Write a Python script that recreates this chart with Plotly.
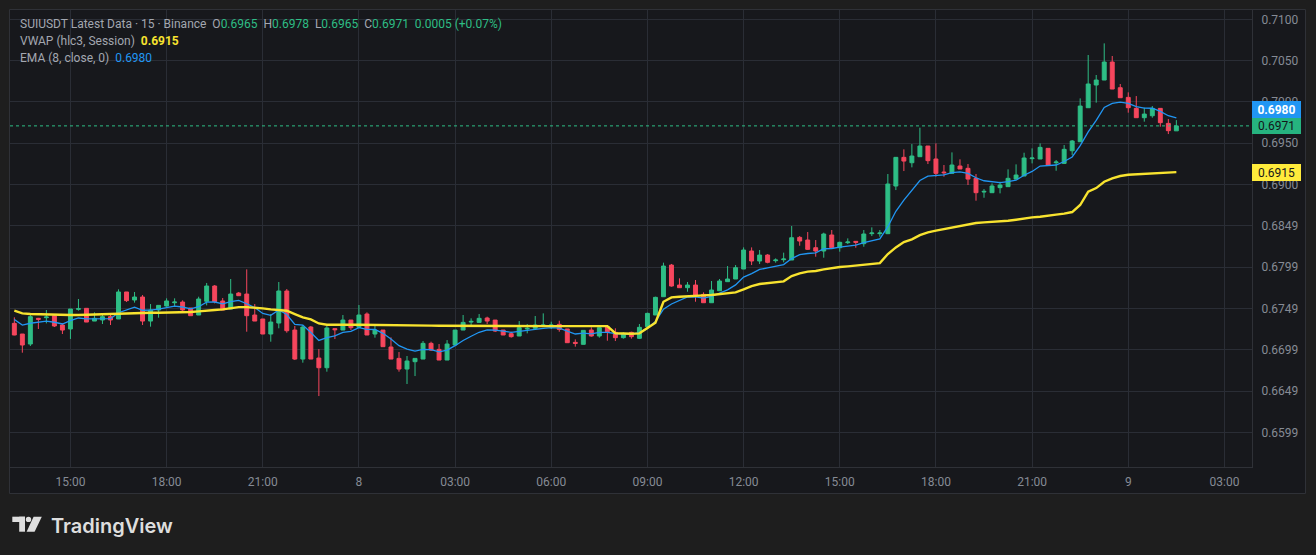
import pandas as pd
import plotly.graph_objects as go

# ---------------- data ----------------
start_time = "2024-08-07 13:15"

open_ = [0.67319, 0.67190, 0.67069, 0.67380, 0.67388, 0.67412, 0.67299, 0.67251, 0.67489, 0.67501,
         0.67347, 0.67360, 0.67400, 0.67372, 0.67699, 0.67602, 0.67638, 0.67347, 0.67481, 0.67529,
         0.67569, 0.67577, 0.67505, 0.67420, 0.67586, 0.67771, 0.67590, 0.67493, 0.67686, 0.67674,
         0.67420, 0.67372, 0.67190, 0.67323, 0.67711, 0.67238, 0.66887, 0.67275, 0.66899, 0.66782,
         0.67255, 0.67238, 0.67359, 0.67271, 0.67432, 0.67190, 0.67238, 0.67033, 0.66895, 0.66766,
         0.66855, 0.66887, 0.67077, 0.67004, 0.66875, 0.67057, 0.67238, 0.67335, 0.67331, 0.67384,
         0.67359, 0.67238, 0.67194, 0.67166, 0.67251, 0.67259, 0.67291, 0.67291, 0.67307, 0.67251,
         0.67089, 0.67065, 0.67238, 0.67166, 0.67279, 0.67210, 0.67146, 0.67210, 0.67138, 0.67279,
         0.67420, 0.67642, 0.68025, 0.67783, 0.67751, 0.67783, 0.67670, 0.67569, 0.67714, 0.67824,
         0.67856, 0.67977, 0.68195, 0.68074, 0.68146, 0.68078, 0.68090, 0.68086, 0.68360, 0.68328,
         0.68235, 0.68195, 0.68389, 0.68235, 0.68296, 0.68312, 0.68284, 0.68405, 0.68405, 0.68405,
         0.68982, 0.69329, 0.69264, 0.69337, 0.69466, 0.69309, 0.69151, 0.69135, 0.69224, 0.69196,
         0.69075, 0.68909, 0.68901, 0.68962, 0.68974, 0.69066, 0.69103, 0.69313, 0.69309, 0.69438,
         0.69264, 0.69256, 0.69409, 0.69518, 0.69930, 0.70205, 0.70265, 0.70483, 0.70172, 0.70055,
         0.69922, 0.69809, 0.69833, 0.69922, 0.69740, 0.69650]

high = [0.67392, 0.67190, 0.67420, 0.67385, 0.67481, 0.67428, 0.67319, 0.67493, 0.67614, 0.67501,
        0.67452, 0.67420, 0.67420, 0.67731, 0.67699, 0.67699, 0.67662, 0.67553, 0.67537, 0.67622,
        0.67622, 0.67598, 0.67505, 0.67642, 0.67808, 0.67783, 0.67626, 0.67856, 0.67699, 0.67973,
        0.67553, 0.67372, 0.67432, 0.67820, 0.67735, 0.67287, 0.67299, 0.67287, 0.67008, 0.67287,
        0.67255, 0.67420, 0.67359, 0.67541, 0.67452, 0.67299, 0.67238, 0.67150, 0.66972, 0.66924,
        0.66895, 0.67105, 0.67097, 0.67069, 0.67117, 0.67238, 0.67420, 0.67380, 0.67432, 0.67400,
        0.67359, 0.67238, 0.67218, 0.67347, 0.67311, 0.67408, 0.67440, 0.67339, 0.67351, 0.67251,
        0.67125, 0.67234, 0.67271, 0.67267, 0.67299, 0.67259, 0.67210, 0.67218, 0.67311, 0.67448,
        0.67642, 0.68054, 0.68038, 0.67864, 0.67820, 0.67844, 0.67694, 0.67832, 0.67856, 0.68013,
        0.68025, 0.68239, 0.68239, 0.68207, 0.68158, 0.68106, 0.68175, 0.68498, 0.68376, 0.68425,
        0.68328, 0.68417, 0.68449, 0.68308, 0.68348, 0.68312, 0.68449, 0.68481, 0.68449, 0.69127,
        0.69329, 0.69426, 0.69490, 0.69688, 0.69466, 0.69498, 0.69236, 0.69389, 0.69305, 0.69248,
        0.69127, 0.68945, 0.69014, 0.69034, 0.69184, 0.69244, 0.69385, 0.69438, 0.69498, 0.69438,
        0.69297, 0.69478, 0.69539, 0.70043, 0.70568, 0.70326, 0.70709, 0.70556, 0.70217, 0.70116,
        0.70071, 0.69930, 0.69950, 0.69922, 0.69793, 0.69780]

low = [0.67175, 0.66964, 0.67045, 0.67251, 0.67319, 0.67275, 0.67190, 0.67130, 0.67473, 0.67335,
       0.67347, 0.67311, 0.67299, 0.67372, 0.67578, 0.67570, 0.67299, 0.67279, 0.67388, 0.67521,
       0.67529, 0.67469, 0.67412, 0.67420, 0.67537, 0.67561, 0.67481, 0.67493, 0.67650, 0.67218,
       0.67347, 0.67190, 0.67097, 0.67259, 0.67206, 0.66875, 0.66843, 0.66887, 0.66439, 0.66734,
       0.67129, 0.67238, 0.67238, 0.67271, 0.67178, 0.67146, 0.67037, 0.66887, 0.66734, 0.66585,
       0.66681, 0.66887, 0.66984, 0.66875, 0.66875, 0.67057, 0.67238, 0.67299, 0.67331, 0.67311,
       0.67214, 0.67178, 0.67146, 0.67166, 0.67198, 0.67246, 0.67279, 0.67251, 0.67218, 0.67085,
       0.67037, 0.67065, 0.67158, 0.67146, 0.67109, 0.67105, 0.67134, 0.67134, 0.67129, 0.67271,
       0.67420, 0.67642, 0.67763, 0.67751, 0.67702, 0.67581, 0.67569, 0.67569, 0.67714, 0.67824,
       0.67856, 0.67977, 0.68025, 0.68038, 0.68046, 0.68054, 0.68058, 0.68086, 0.68259, 0.68207,
       0.68126, 0.68114, 0.68235, 0.68187, 0.68280, 0.68235, 0.68247, 0.68376, 0.68368, 0.68400,
       0.68933, 0.69163, 0.69208, 0.69337, 0.69248, 0.69095, 0.69095, 0.69135, 0.69188, 0.68994,
       0.68804, 0.68840, 0.68901, 0.68893, 0.68974, 0.69066, 0.69103, 0.69256, 0.69309, 0.69236,
       0.69167, 0.69256, 0.69357, 0.69518, 0.69930, 0.69991, 0.70265, 0.70156, 0.70051, 0.69870,
       0.69809, 0.69761, 0.69809, 0.69700, 0.69611, 0.69650]

close = [0.67178, 0.67057, 0.67400, 0.67368, 0.67396, 0.67287, 0.67238, 0.67493, 0.67497, 0.67335,
         0.67380, 0.67400, 0.67360, 0.67699, 0.67594, 0.67638, 0.67347, 0.67481, 0.67537, 0.67590,
         0.67577, 0.67481, 0.67412, 0.67614, 0.67771, 0.67582, 0.67481, 0.67674, 0.67654, 0.67412,
         0.67347, 0.67190, 0.67335, 0.67711, 0.67230, 0.66887, 0.67275, 0.66887, 0.66782, 0.67263,
         0.67242, 0.67359, 0.67267, 0.67420, 0.67178, 0.67238, 0.67037, 0.66887, 0.66766, 0.66863,
         0.66895, 0.67077, 0.66996, 0.66875, 0.67069, 0.67238, 0.67331, 0.67343, 0.67380, 0.67347,
         0.67226, 0.67178, 0.67158, 0.67267, 0.67259, 0.67299, 0.67299, 0.67299, 0.67246, 0.67085,
         0.67077, 0.67234, 0.67166, 0.67267, 0.67218, 0.67146, 0.67198, 0.67158, 0.67271, 0.67440,
         0.67634, 0.68013, 0.67771, 0.67751, 0.67783, 0.67650, 0.67569, 0.67723, 0.67832, 0.67856,
         0.67993, 0.68207, 0.68074, 0.68146, 0.68058, 0.68086, 0.68098, 0.68356, 0.68316, 0.68215,
         0.68195, 0.68401, 0.68235, 0.68300, 0.68304, 0.68300, 0.68401, 0.68413, 0.68413, 0.69006,
         0.69329, 0.69284, 0.69345, 0.69466, 0.69289, 0.69135, 0.69143, 0.69236, 0.69188, 0.69066,
         0.68901, 0.68917, 0.68982, 0.68994, 0.69075, 0.69115, 0.69321, 0.69321, 0.69450, 0.69236,
         0.69272, 0.69426, 0.69527, 0.69950, 0.70217, 0.70265, 0.70483, 0.70156, 0.70051, 0.69930,
         0.69809, 0.69853, 0.69922, 0.69749, 0.69652, 0.69710]

vwap = [0.67472, 0.67440, 0.67432, 0.67428, 0.67428, 0.67424, 0.67420, 0.67420, 0.67420, 0.67424,
        0.67428, 0.67428, 0.67428, 0.67440, 0.67444, 0.67444, 0.67444, 0.67448, 0.67448, 0.67448,
        0.67448, 0.67452, 0.67456, 0.67464, 0.67476, 0.67480, 0.67488, 0.67504, 0.67516, 0.67516,
        0.67512, 0.67500, 0.67488, 0.67480, 0.67472, 0.67432, 0.67391, 0.67367, 0.67318, 0.67302,
        0.67305, 0.67304, 0.67303, 0.67302, 0.67300, 0.67299, 0.67298, 0.67297, 0.67296, 0.67295,
        0.67294, 0.67293, 0.67292, 0.67291, 0.67290, 0.67289, 0.67288, 0.67288, 0.67287, 0.67287,
        0.67287, 0.67287, 0.67287, 0.67287, 0.67287, 0.67286, 0.67286, 0.67286, 0.67286, 0.67286,
        0.67285, 0.67285, 0.67285, 0.67285, 0.67285, 0.67200, 0.67195, 0.67193, 0.67198, 0.67258,
        0.67327, 0.67581, 0.67634, 0.67642, 0.67650, 0.67654, 0.67658, 0.67662, 0.67670, 0.67682,
        0.67694, 0.67731, 0.67771, 0.67795, 0.67803, 0.67811, 0.67828, 0.67892, 0.67924, 0.67945,
        0.67953, 0.67973, 0.67989, 0.68001, 0.68009, 0.68017, 0.68029, 0.68041, 0.68049, 0.68158,
        0.68239, 0.68304, 0.68336, 0.68388, 0.68421, 0.68441, 0.68461, 0.68481, 0.68497, 0.68514,
        0.68534, 0.68542, 0.68546, 0.68554, 0.68562, 0.68574, 0.68590, 0.68602, 0.68610, 0.68618,
        0.68635, 0.68647, 0.68667, 0.68752, 0.68913, 0.68957, 0.69034, 0.69075, 0.69103, 0.69119,
        0.69125, 0.69133, 0.69140, 0.69145, 0.69148, 0.69150]

ema_length = 8
ema_seed = 0.67420          # EMA value just before the first visible bar (read)
ema_last_label = 0.6980     # EMA value shown in the legend / price scale
vwap_label = "0.6915"
ema_label = "0.6980"
change_label = "0.0005 (+0.07%)"

price_tickvals = [0.660, 0.665, 0.670, 0.675, 0.680, 0.685, 0.690, 0.695, 0.700, 0.705, 0.710]
price_ticktext = ["0.6599", "0.6649", "0.6699", "0.6749", "0.6799", "0.6849",
                  "0.6900", "0.6950", "0.7000", "0.7050", "0.7100"]
time_tickvals = ["2024-08-07 15:00", "2024-08-07 18:00", "2024-08-07 21:00", "2024-08-08 00:00",
                 "2024-08-08 03:00", "2024-08-08 06:00", "2024-08-08 09:00", "2024-08-08 12:00",
                 "2024-08-08 15:00", "2024-08-08 18:00", "2024-08-08 21:00", "2024-08-09 00:00",
                 "2024-08-09 03:00"]
time_ticktext = ["15:00", "18:00", "21:00", "8", "03:00", "06:00", "09:00", "12:00",
                 "15:00", "18:00", "21:00", "9", "03:00"]

# ---------------- derived ----------------
times = pd.date_range(start_time, periods=len(close), freq="15min")
alpha = 2.0 / (ema_length + 1)
ema = []
prev = ema_seed
for c in close:
    prev = alpha * c + (1 - alpha) * prev
    ema.append(prev)

# ---------------- style ----------------
W_FIG, H_FIG = 1316, 555
PL, PR, PT, PB = 10, 1252, 10, 467
PW, PH = PR - PL, PB - PT


def px(x):
    return (x - PL) / PW


def py(y):
    return (PB - y) / PH


OUTER = "#1e1e1e"
BG = "#17181c"
GRID = "#2a2d35"
BORDER = "#2f3137"
AXIS_TXT = "#868b95"
LEG_TXT = "#a3a7b0"
GREEN = "#2ebd85"
RED = "#f6465d"
YELLOW = "#f8e32f"
BLUE = "#2196f3"
FONT = "Roboto"

fig = go.Figure()
fig.add_trace(go.Candlestick(
    x=times, open=open_, high=high, low=low, close=close,
    increasing=dict(line=dict(color=GREEN, width=1), fillcolor=GREEN),
    decreasing=dict(line=dict(color=RED, width=1), fillcolor=RED),
    whiskerwidth=0, hoverinfo="skip", showlegend=False))
fig.add_trace(go.Scatter(x=times, y=ema, mode="lines",
                         line=dict(color=BLUE, width=1.3), hoverinfo="skip", showlegend=False))
fig.add_trace(go.Scatter(x=times, y=vwap, mode="lines",
                         line=dict(color=YELLOW, width=2.4), hoverinfo="skip", showlegend=False))

shapes = [
    # chart panel
    dict(type="rect", xref="paper", yref="paper", x0=px(9.5), x1=px(1305.5),
         y0=py(493.5), y1=py(9.5), fillcolor=BG, line=dict(color=BORDER, width=1), layer="below"),
    # last price dotted line
    dict(type="line", xref="paper", yref="y", x0=0, x1=1, y0=close[-1], y1=close[-1],
         line=dict(color=GREEN, width=1, dash="dot"), layer="above"),
    # TradingView logo
    dict(type="rect", xref="paper", yref="paper", x0=px(12.3), x1=px(25), y0=py(522), y1=py(516.7),
         fillcolor="#dedede", line=dict(width=0)),
    dict(type="rect", xref="paper", yref="paper", x0=px(19.2), x1=px(25), y0=py(531.7), y1=py(516.7),
         fillcolor="#dedede", line=dict(width=0)),
    dict(type="circle", xref="paper", yref="paper", x0=px(25.8), x1=px(31.2), y0=py(522.1), y1=py(516.7),
         fillcolor="#dedede", line=dict(width=0)),
    dict(type="path", xref="paper", yref="paper",
         path=f"M {px(33.6)} {py(516.7)} L {px(41.8)} {py(516.7)} L {px(34.6)} {py(531.7)} "
              f"L {px(26.6)} {py(531.7)} Z",
         fillcolor="#dedede", line=dict(width=0)),
]

g = lambda v: f"<span style='color:{GREEN}'>{v}</span>"
line1 = ("SUIUSDT Latest Data · 15 · Binance\u00a0\u00a0"
         f"O{g(f'{open_[-1]:.4f}')}\u00a0\u00a0H{g(f'{high[-1]:.4f}')}\u00a0\u00a0"
         f"L{g(f'{low[-1]:.4f}')}\u00a0\u00a0C{g(f'{close[-1]:.4f}')}\u00a0\u00a0{g(change_label)}")
line2 = f"VWAP (hlc3, Session)\u00a0\u00a0<span style='color:{YELLOW}'><b>{vwap_label}</b></span>"
line3 = f"EMA (8, close, 0)\u00a0\u00a0<span style='color:{BLUE}'>{ema_label}</span>"

annotations = []
for txt, yy in [(line1, 24), (line2, 41), (line3, 58)]:
    annotations.append(dict(text=txt, xref="paper", yref="paper", x=px(18), y=py(yy),
                            xanchor="left", yanchor="middle", showarrow=False,
                            font=dict(family=FONT, size=12, color=LEG_TXT)))

# price-scale labels
for val, txt, bg, fc, shift, bold in [
        (vwap[-1], vwap_label, "#ffeb3b", "#16171b", 0, False),
        (close[-1], f"{close[-1]:.4f}", "#26b37f", "#131519", 0, False),
        (ema_last_label, ema_label, BLUE, "#ffffff", 8.5, True)]:
    annotations.append(dict(text=f"<b>{txt}</b>" if bold else txt, xref="paper", yref="y",
                            x=1, y=val, yshift=shift, xanchor="left", yanchor="middle",
                            showarrow=False, bgcolor=bg, width=45, height=13, borderpad=2,
                            borderwidth=0, align="center",
                            font=dict(family=FONT, size=12, color=fc)))

annotations.append(dict(text="TradingView", xref="paper", yref="paper", x=px(49), y=py(526),
                        xanchor="left", yanchor="middle", showarrow=False,
                        font=dict(family="Inter", size=20, color="#dedede", weight=600)))

fig.update_layout(
    width=W_FIG, height=H_FIG,
    margin=dict(l=PL, r=W_FIG - PR, t=PT, b=H_FIG - PB),
    paper_bgcolor=OUTER, plot_bgcolor=BG,
    showlegend=False, hovermode=False,
    shapes=shapes, annotations=annotations,
    xaxis=dict(type="date", range=["2024-08-07 13:06:54", "2024-08-09 03:51:36"],
               rangeslider=dict(visible=False),
               tickvals=time_tickvals, ticktext=time_ticktext,
               showgrid=True, gridcolor=GRID, gridwidth=1, zeroline=False,
               showline=True, linecolor=BORDER, linewidth=1,
               ticks="outside", ticklen=4, tickcolor=BG,
               tickfont=dict(family=FONT, size=12, color=AXIS_TXT)),
    yaxis=dict(side="right", range=[0.65580, 0.71113],
               tickvals=price_tickvals, ticktext=price_ticktext,
               showgrid=True, gridcolor=GRID, gridwidth=1, zeroline=False,
               showline=True, linecolor=BORDER, linewidth=1,
               ticks="outside", ticklen=6, tickcolor=BG,
               tickfont=dict(family=FONT, size=12, color=AXIS_TXT)),
)

fig.write_html("out.html", config={"displayModeBar": False},
               post_script="document.body.style.margin='0';document.body.style.background='#1e1e1e';")
